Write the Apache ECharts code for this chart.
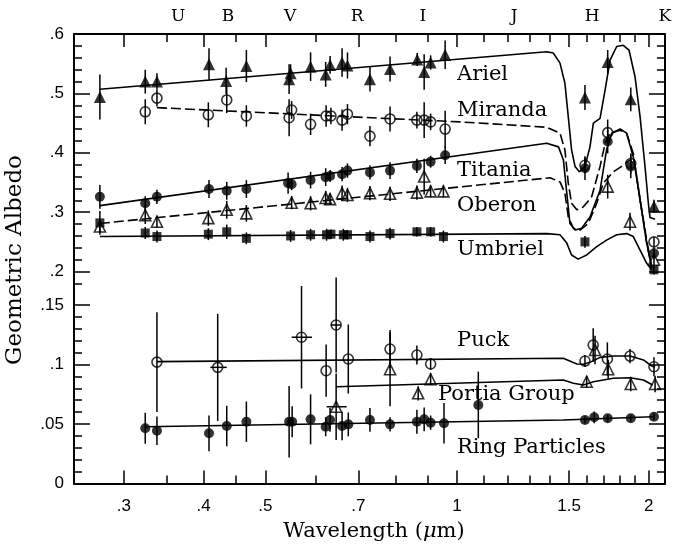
<!DOCTYPE html>
<html><head><meta charset="utf-8">
<script src="https://cdn.jsdelivr.net/npm/echarts@6/dist/echarts.min.js"></script>
<style>html,body{margin:0;padding:0;background:#fff}#c{width:676px;height:549px}</style>
</head><body><div id="c"></div>
<script>
// ---------- tick labels ----------
const xMajor = [0.3, 0.4, 0.5, 0.7, 1, 1.5, 2];
const xMajorLabels = ['.3', '.4', '.5', '.7', '1', '1.5', '2'];
const xMinor = [0.35, 0.45, 0.6, 0.8, 0.9, 1.1, 1.2, 1.3, 1.4, 1.6, 1.7, 1.8, 1.9];
const bandNames = ['U', 'B', 'V', 'R', 'I', 'J', 'H', 'K'];
const bandWl = [0.365, 0.437, 0.547, 0.697, 0.884, 1.229, 1.63, 2.119];
const yUpMajor = [0.2, 0.3, 0.4, 0.5, 0.6];
const yUpLabels = ['.2', '.3', '.4', '.5', '.6'];
const yUpMinor = [0.18, 0.22, 0.24, 0.26, 0.28, 0.32, 0.34, 0.36, 0.38, 0.42, 0.44, 0.46, 0.48, 0.52, 0.54, 0.56, 0.58];
const yLoMajor = [0, 0.05, 0.1, 0.15];
const yLoLabels = ['0', '.05', '.1', '.15'];
const yLoMinor = [0.01, 0.02, 0.03, 0.04, 0.06, 0.07, 0.08, 0.09, 0.11, 0.12, 0.13, 0.14];

// ---------- satellites (upper panel) ----------
const arielWl  = [0.275,0.324,0.338,0.408,0.434,0.467,0.545,0.548,0.589,0.622,0.632,0.660,0.673,0.730,0.785,0.866,0.888,0.909,0.958,1.588,1.724,1.874,2.038];
const arielAlb = [0.494,0.520,0.520,0.549,0.521,0.546,0.524,0.534,0.545,0.532,0.548,0.552,0.547,0.524,0.541,0.557,0.536,0.552,0.565,0.493,0.553,0.490,0.310];
const arielErr = [0.038,0.020,0.014,0.027,0.022,0.027,0.025,0.015,0.024,0.021,0.015,0.024,0.022,0.021,0.021,0.011,0.030,0.012,0.024,0.021,0.020,0.020,0.011];

const mirandaWl  = [0.324,0.338,0.407,0.435,0.467,0.545,0.550,0.589,0.623,0.634,0.660,0.673,0.730,0.785,0.865,0.888,0.909,0.958,1.588,1.724,1.874,2.038];
const mirandaAlb = [0.469,0.492,0.464,0.489,0.462,0.459,0.472,0.448,0.462,0.462,0.455,0.465,0.428,0.457,0.455,0.455,0.452,0.440,0.379,0.434,0.382,0.250];
const mirandaErr = [0.021,0.014,0.021,0.022,0.018,0.031,0.015,0.018,0.018,0.014,0.018,0.017,0.017,0.021,0.014,0.030,0.014,0.031,0.013,0.022,0.017,0.008];

const titaniaWl  = [0.275,0.324,0.338,0.408,0.435,0.467,0.543,0.550,0.589,0.622,0.632,0.660,0.673,0.730,0.785,0.865,0.909,0.958,1.588,1.724,1.874,2.038];
const titaniaAlb = [0.326,0.315,0.326,0.339,0.336,0.339,0.349,0.347,0.354,0.359,0.361,0.364,0.370,0.367,0.370,0.378,0.385,0.396,0.374,0.419,0.377,0.231];
const titaniaErr = [0.020,0.012,0.012,0.015,0.015,0.015,0.018,0.010,0.014,0.015,0.010,0.012,0.012,0.012,0.014,0.012,0.010,0.015,0.020,0.020,0.020,0.010];

const oberonWl  = [0.275,0.324,0.338,0.407,0.435,0.467,0.550,0.589,0.622,0.632,0.660,0.673,0.730,0.785,0.865,0.888,0.909,0.952,1.724,1.869,2.038];
const oberonAlb = [0.276,0.295,0.284,0.290,0.304,0.298,0.316,0.315,0.324,0.322,0.332,0.329,0.332,0.331,0.333,0.360,0.335,0.335,0.343,0.284,0.220];
const oberonErr = [0.011,0.015,0.010,0.013,0.015,0.014,0.011,0.012,0.012,0.010,0.013,0.012,0.012,0.012,0.012,0.030,0.010,0.010,0.020,0.015,0.010];

const umbrielWl  = [0.275,0.324,0.338,0.407,0.435,0.467,0.548,0.589,0.624,0.634,0.663,0.673,0.730,0.785,0.865,0.909,0.952,1.588,2.038];
const umbrielAlb = [0.282,0.265,0.259,0.263,0.267,0.256,0.260,0.262,0.262,0.263,0.262,0.262,0.259,0.264,0.267,0.267,0.259,0.250,0.203];
const umbrielErr = [0.020,0.010,0.010,0.010,0.012,0.010,0.010,0.010,0.010,0.008,0.010,0.008,0.010,0.010,0.008,0.008,0.010,0.010,0.008];

// model spectra (upper panel)
const arielFitWl = [0.275,1.383,1.416,1.451,1.477,1.495,1.513,1.532,1.556,1.588,1.617,1.637,1.677,1.708,1.739,1.781,1.824,1.862,1.903,1.938,1.973,1.997,2.009,2.046];
const arielFit   = [0.507,0.570,0.568,0.551,0.517,0.461,0.405,0.377,0.368,0.377,0.410,0.450,0.458,0.506,0.556,0.579,0.581,0.573,0.528,0.461,0.377,0.315,0.291,0.288];
const mirandaFitWl = [0.338,1.011,1.383,1.451,1.477,1.495,1.513,1.542,1.579,1.627,1.677,1.708,1.739,1.803,1.846,1.891,1.938,1.985,2.022,2.035];
const mirandaFit   = [0.476,0.452,0.443,0.433,0.405,0.349,0.315,0.304,0.309,0.326,0.377,0.416,0.433,0.438,0.433,0.399,0.321,0.253,0.208,0.203];
const titaniaFitWl = [0.275,1.383,1.443,1.469,1.487,1.504,1.532,1.569,1.617,1.677,1.717,1.749,1.803,1.846,1.891,1.938,1.985,2.022];
const titaniaFit   = [0.311,0.416,0.410,0.388,0.332,0.281,0.270,0.273,0.292,0.337,0.405,0.433,0.440,0.433,0.393,0.321,0.248,0.206];
const oberonFitWl = [0.275,1.400,1.451,1.477,1.495,1.523,1.560,1.607,1.657,1.697,1.759,1.824,1.869,1.903,1.938,1.985,2.022];
const oberonFit   = [0.281,0.358,0.351,0.332,0.292,0.273,0.270,0.281,0.315,0.349,0.368,0.379,0.388,0.379,0.321,0.248,0.206];
const umbrielFitWl = [0.275,1.383,1.451,1.487,1.513,1.549,1.598,1.657,1.717,1.781,1.846,1.891,1.938,1.985,2.022];
const umbrielFit   = [0.259,0.264,0.262,0.248,0.228,0.221,0.228,0.242,0.253,0.262,0.264,0.259,0.236,0.214,0.203];

// ---------- small bodies (lower panel) ----------
const puckWl  = [0.338,0.421,0.570,0.623,0.646,0.675,0.785,0.865,0.909,1.588,1.636,1.722,1.869,2.038];
const puckAlb = [0.102,0.0976,0.1229,0.0948,0.1332,0.1046,0.113,0.108,0.1004,0.1029,0.1164,0.1046,0.1071,0.0981];
const puckErr = [0.042,0.045,0.043,0.022,0.040,0.029,0.016,0.008,0.005,0.005,0.014,0.014,0.006,0.008];
const puckWlLo = [null,0.410,0.550,null,0.634,null,null,null,null,null,null,null,null,null];
const puckWlHi = [null,0.435,0.592,null,0.657,null,null,null,null,null,null,null,null,null];

const portiaWl  = [0.646,0.785,0.869,0.909,1.598,1.647,1.727,1.874,2.046];
const portiaAlb = [0.0645,0.096,0.0758,0.0876,0.0855,0.1122,0.096,0.0836,0.0836];
const portiaErr = [0.028,0.031,0.006,0.005,0.005,0.012,0.008,0.006,0.007];
const portiaWlLo = [0.624,null,null,null,null,null,null,null,null];
const portiaWlHi = [0.671,null,null,null,null,null,null,null,null];

const ringWl  = [0.324,0.338,0.408,0.435,0.467,0.545,0.551,0.589,0.622,0.632,0.660,0.675,0.730,0.785,0.865,0.888,0.909,0.954,1.080,1.588,1.642,1.724,1.874,2.038];
const ringAlb = [0.0464,0.0444,0.0422,0.0483,0.0519,0.0519,0.0519,0.0539,0.0477,0.0534,0.0483,0.0497,0.0534,0.0497,0.0519,0.0539,0.0511,0.0506,0.066,0.0534,0.0556,0.0548,0.0548,0.0561];
const ringErr = [0.013,0.012,0.015,0.017,0.017,0.030,0.013,0.021,0.008,0.010,0.012,0.010,0.010,0.006,0.010,0.010,0.006,0.017,0.028,0.003,0.005,0.003,0.003,0.003];

const puckFitWl = [0.338,1.468,1.542,1.579,1.617,1.677,1.759,1.869,1.962,2.022,2.046];
const puckFit   = [0.1024,0.1052,0.1004,0.1002,0.1018,0.106,0.1071,0.1071,0.1038,0.0987,0.0976];
const portiaFitWl = [0.646,1.468,1.523,1.579,1.637,1.759,1.869,1.962,2.028];
const portiaFit   = [0.0813,0.087,0.0842,0.0828,0.0855,0.0884,0.0889,0.087,0.0828];
const ringFitWl = [0.324,1.468,2.028];
const ringFit   = [0.0477,0.0534,0.0561];

const breakLevel = 0.1585;

// ---------- build ----------
const L = Math.log10;
const XMIN = -0.6013, XMAX = 0.3265;
const UMIN = 0.16229, UMAX = 0.6, LMIN = 0, LMAX = 0.15924;
const BLACK = '#000';
const SERIF = '"DejaVu Serif", "Liberation Serif", serif';
const SANS = '"Liberation Sans", Arial, sans-serif';

function nearestLabel(v, vals, labels) {
  let bi = 0, bd = Infinity;
  vals.forEach((t, i) => { const d = Math.abs(t - v); if (d < bd) { bd = d; bi = i; } });
  return labels[bi];
}
const pts = (wl, v) => wl.map((w, i) => [L(w), v[i]]);
const errPts = (wl, v, e, lo, hi) => wl.map((w, i) => [L(w), v[i], e[i],
  lo && lo[i] != null ? L(lo[i]) : null, hi && hi[i] != null ? L(hi[i]) : null]);

const frameStyle = { color: BLACK, width: 2 };
const tickStyle = { color: BLACK, width: 1.5 };
function xAxisDef(grid, pos, kind) {
  const a = { gridIndex: grid, type: 'value', position: pos, min: XMIN, max: XMAX,
    splitLine: { show: false }, axisLine: { show: false, onZero: false, lineStyle: frameStyle },
    axisTick: { show: false }, axisLabel: { show: false } };
  if (kind === 'major') {
    a.axisLine.show = true;
    a.axisTick = { show: true, inside: true, length: 13, customValues: xMajor.map(L), lineStyle: tickStyle };
  } else if (kind === 'minor') {
    a.axisTick = { show: true, inside: true, length: 8, customValues: xMinor.map(L), lineStyle: tickStyle };
  }
  return a;
}
function yAxisDef(grid, pos, kind, min, max, major, minor) {
  const a = { gridIndex: grid, type: 'value', position: pos, min, max,
    splitLine: { show: false }, axisLine: { show: false, onZero: false, lineStyle: frameStyle },
    axisTick: { show: false }, axisLabel: { show: false } };
  if (kind === 'major') {
    a.axisLine.show = true;
    a.axisTick = { show: true, inside: true, length: 16, customValues: major, lineStyle: tickStyle };
  } else {
    a.axisTick = { show: true, inside: true, length: 8, customValues: minor, lineStyle: tickStyle };
  }
  return a;
}

const xAxes = [
  xAxisDef(0, 'top', 'major'),
  xAxisDef(0, 'top', 'minor'),
  xAxisDef(0, 'top', 'band'),
  xAxisDef(1, 'bottom', 'major'),
  xAxisDef(1, 'bottom', 'minor')
];
xAxes[2].axisLabel = { show: true, customValues: bandWl.map(L), margin: 9,
  formatter: v => nearestLabel(v, bandWl.map(L), bandNames),
  fontFamily: SERIF, fontSize: 17, color: BLACK };
xAxes[3].axisLabel = { show: true, customValues: xMajor.map(L), margin: 14,
  formatter: v => nearestLabel(v, xMajor.map(L), xMajorLabels),
  fontFamily: SANS, fontSize: 17, color: BLACK };

const yAxes = [
  yAxisDef(0, 'left', 'major', UMIN, UMAX, yUpMajor, yUpMinor),
  yAxisDef(0, 'left', 'minor', UMIN, UMAX, yUpMajor, yUpMinor),
  yAxisDef(0, 'right', 'major', UMIN, UMAX, yUpMajor, yUpMinor),
  yAxisDef(0, 'right', 'minor', UMIN, UMAX, yUpMajor, yUpMinor),
  yAxisDef(1, 'left', 'major', LMIN, LMAX, yLoMajor, yLoMinor),
  yAxisDef(1, 'left', 'minor', LMIN, LMAX, yLoMajor, yLoMinor),
  yAxisDef(1, 'right', 'major', LMIN, LMAX, yLoMajor, yLoMinor),
  yAxisDef(1, 'right', 'minor', LMIN, LMAX, yLoMajor, yLoMinor)
];
yAxes[0].axisLabel = { show: true, customValues: yUpMajor, margin: 10,
  formatter: v => nearestLabel(v, yUpMajor, yUpLabels), fontFamily: SANS, fontSize: 17, color: BLACK };
yAxes[4].axisLabel = { show: true, customValues: yLoMajor, margin: 10,
  formatter: v => nearestLabel(v, yLoMajor, yLoLabels), fontFamily: SANS, fontSize: 17, color: BLACK };

function fit(wl, v, panel, dashed) {
  return { type: 'line', xAxisIndex: panel ? 3 : 0, yAxisIndex: panel ? 4 : 0,
    data: pts(wl, v), showSymbol: false, symbol: 'none', z: 2, silent: true,
    lineStyle: { color: BLACK, width: 1.6, type: dashed ? [10, 4] : 'solid' } };
}
function marks(wl, v, panel, symbol, size, filled) {
  return { type: 'scatter', xAxisIndex: panel ? 3 : 0, yAxisIndex: panel ? 4 : 0,
    data: pts(wl, v), symbol, symbolSize: size, z: 4, silent: true,
    itemStyle: filled ? { color: BLACK } : { color: 'rgba(255,255,255,0)', borderColor: BLACK, borderWidth: 1.6 } };
}
function errors(data, panel) {
  return { type: 'custom', xAxisIndex: panel ? 3 : 0, yAxisIndex: panel ? 4 : 0, z: 3, silent: true,
    encode: { x: 0, y: 1 }, data,
    renderItem: (params, api) => {
      const x = api.value(0), y = api.value(1), e = api.value(2);
      const a = api.coord([x, y - e]), b = api.coord([x, y + e]);
      const ch = [{ type: 'line', shape: { x1: a[0], y1: a[1], x2: b[0], y2: b[1] },
        style: { stroke: BLACK, lineWidth: 1.5 } }];
      const lo = api.value(3), hi = api.value(4);
      if (isFinite(lo) && isFinite(hi) && lo !== hi) {
        const c = api.coord([lo, y]), d = api.coord([hi, y]);
        ch.push({ type: 'line', shape: { x1: c[0], y1: c[1], x2: d[0], y2: d[1] },
          style: { stroke: BLACK, lineWidth: 1.5 } });
      }
      return { type: 'group', children: ch };
    } };
}

const upErr = [].concat(
  errPts(arielWl, arielAlb, arielErr), errPts(mirandaWl, mirandaAlb, mirandaErr),
  errPts(titaniaWl, titaniaAlb, titaniaErr), errPts(oberonWl, oberonAlb, oberonErr),
  errPts(umbrielWl, umbrielAlb, umbrielErr));
const loErr = [].concat(
  errPts(puckWl, puckAlb, puckErr, puckWlLo, puckWlHi),
  errPts(portiaWl, portiaAlb, portiaErr, portiaWlLo, portiaWlHi),
  errPts(ringWl, ringAlb, ringErr));

const series = [
  fit(arielFitWl, arielFit, 0, false),
  fit(mirandaFitWl, mirandaFit, 0, true),
  fit(titaniaFitWl, titaniaFit, 0, false),
  fit(oberonFitWl, oberonFit, 0, true),
  fit(umbrielFitWl, umbrielFit, 0, false),
  fit(puckFitWl, puckFit, 1, false),
  fit(portiaFitWl, portiaFit, 1, false),
  Object.assign(fit(ringFitWl, ringFit, 1, false), {
    markLine: { silent: true, symbol: 'none', label: { show: false },
      lineStyle: { color: BLACK, width: 1.5, type: [7, 3] },
      data: [{ yAxis: breakLevel }] } }),
  errors(upErr, 0),
  errors(loErr, 1),
  marks(arielWl, arielAlb, 0, 'triangle', 12, true),
  marks(mirandaWl, mirandaAlb, 0, 'circle', 10, false),
  marks(titaniaWl, titaniaAlb, 0, 'circle', 10, true),
  marks(oberonWl, oberonAlb, 0, 'triangle', 11, false),
  marks(umbrielWl, umbrielAlb, 0, 'rect', 9, true),
  marks(puckWl, puckAlb, 1, 'circle', 10, false),
  marks(portiaWl, portiaAlb, 1, 'triangle', 11, false),
  marks(ringWl, ringAlb, 1, 'circle', 10, true)
];

const labelFont = '21px ' + SERIF;
const curveLabels = [
  ['Ariel', 457, 75], ['Miranda', 457, 111], ['Titania', 457, 171], ['Oberon', 457, 206],
  ['Umbriel', 457, 250], ['Puck', 457, 341], ['Portia Group', 438, 395], ['Ring Particles', 457, 448]
];
const graphic = curveLabels.map(([t, x, y]) => ({ type: 'text', x, y, silent: true,
  style: { text: t, font: labelFont, fill: BLACK, textAlign: 'left', textVerticalAlign: 'middle' } }));
graphic.push({ type: 'text', x: 374, y: 532, silent: true,
  style: { text: '{n|Wavelength (}{i|μ}{n|m)}', textAlign: 'center', textVerticalAlign: 'middle', fill: BLACK,
    rich: { n: { fontFamily: SERIF, fontSize: 21, color: BLACK }, i: { fontFamily: SERIF, fontSize: 21, fontStyle: 'italic', color: BLACK } } } });
graphic.push({ type: 'text', x: 15, y: 260, rotation: Math.PI / 2, silent: true,
  style: { text: 'Geometric Albedo', font: '23px ' + SERIF, fill: BLACK, textAlign: 'center', textVerticalAlign: 'middle' } });

const chart = echarts.init(document.getElementById('c'), null, { renderer: 'canvas' });
chart.setOption({
  animation: false,
  backgroundColor: '#fff',
  grid: [
    { left: 74, right: 11, top: 34, height: 260 },
    { left: 74, right: 11, top: 294, height: 189.5 }
  ],
  xAxis: xAxes,
  yAxis: yAxes,
  series,
  graphic
});
</script></body></html>
